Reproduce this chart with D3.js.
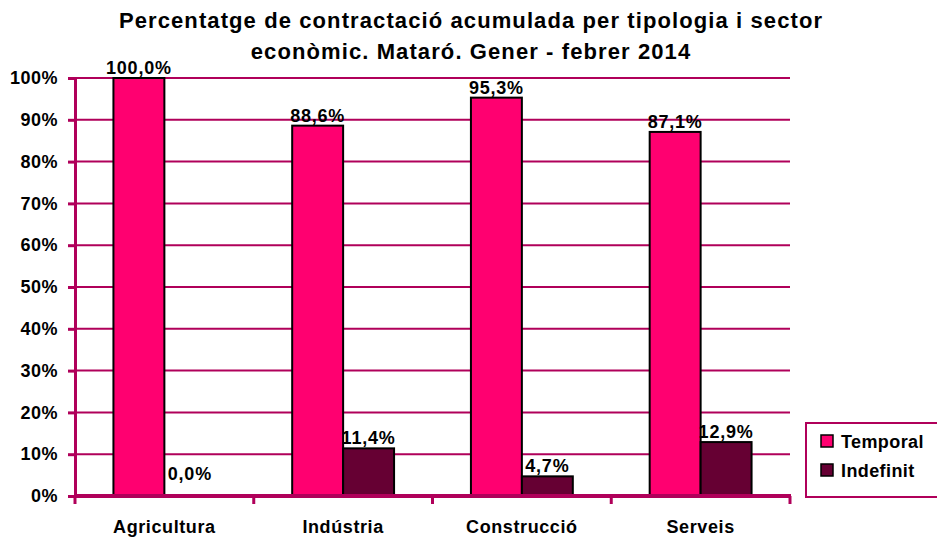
<!DOCTYPE html>
<html>
<head>
<meta charset="utf-8">
<script src="https://cdn.jsdelivr.net/npm/d3@7"></script>
<style>
  body { margin: 0; background: #fff; }
  text { font-family: "Liberation Sans", Arial, sans-serif; font-weight: bold; }
</style>
</head>
<body>
<script>
const categories = ["Agricultura", "Indústria", "Construcció", "Serveis"];
const series = ["Temporal", "Indefinit"];
const temporal = [100.0, 88.6, 95.3, 87.1];
const indefinit = [0.0, 11.4, 4.7, 12.9];
const yTicks = [0, 10, 20, 30, 40, 50, 60, 70, 80, 90, 100];
const colors = ["#ff0070", "#660033"];
const titleLines = ["Percentatge de contractació acumulada per tipologia i sector", "econòmic. Mataró. Gener - febrer 2014"];

const width = 937, height = 543;
const marginLeft = 75, marginRight = 147, marginTop = 78, marginBottom = 47;
const axisColor = "#b0005a";

const values = [temporal, indefinit];
const fmt = v => v.toFixed(1).replace(".", ",") + "%";

const svg = d3.select("body").append("svg")
    .attr("width", width)
    .attr("height", height);

const x = d3.scaleBand()
    .domain(categories)
    .range([marginLeft, width - marginRight])
    .paddingInner(0.43)
    .paddingOuter(0.215);

const xSub = d3.scaleBand()
    .domain(series)
    .range([0, x.bandwidth()]);

const y = d3.scaleLinear()
    .domain([0, 100])
    .range([height - marginBottom, marginTop]);

// title
svg.append("g")
    .selectAll("text")
    .data(titleLines)
    .join("text")
    .attr("x", 471)
    .attr("y", (d, i) => 28 + i * 31)
    .attr("text-anchor", "middle")
    .style("font-size", "22px")
    .style("letter-spacing", "1.1px")
    .text(d => d);

// gridlines
svg.append("g")
    .selectAll("line")
    .data(yTicks.filter(d => d > 0))
    .join("line")
    .attr("x1", marginLeft)
    .attr("x2", width - marginRight)
    .attr("y1", d => y(d))
    .attr("y2", d => y(d))
    .attr("stroke", axisColor)
    .attr("stroke-width", 2);

// y axis
const yAxis = d3.axisLeft(y).tickValues(yTicks).tickFormat(d => d + "%").tickSize(7).tickPadding(10);
svg.append("g")
    .attr("transform", `translate(${marginLeft},0)`)
    .call(yAxis)
    .call(g => g.select(".domain").attr("stroke", axisColor).attr("stroke-width", 3))
    .call(g => g.selectAll(".tick line").attr("stroke", axisColor).attr("stroke-width", 3))
    .call(g => g.selectAll(".tick text")
        .attr("fill", "#000")
        .style("font-size", "18px")
        .style("letter-spacing", "0.5px"));

// bars
const groups = svg.append("g")
    .selectAll("g")
    .data(categories)
    .join("g")
    .attr("transform", d => `translate(${x(d)},0)`);

groups.selectAll("rect")
    .data((d, i) => series.map((s, j) => ({ s, j, v: values[j][i] })))
    .join("rect")
    .attr("x", d => xSub(d.s))
    .attr("y", d => y(d.v))
    .attr("width", xSub.bandwidth())
    .attr("height", d => y(0) - y(d.v))
    .attr("fill", d => colors[d.j])
    .attr("stroke", d => d.v > 0 ? "#000" : "none")
    .attr("stroke-width", 2);

groups.selectAll("text")
    .data((d, i) => series.map((s, j) => ({ s, j, v: values[j][i] })))
    .join("text")
    .attr("x", d => xSub(d.s) + xSub.bandwidth() / 2)
    .attr("y", d => d.v === 0 ? y(d.v) - 16 : y(d.v) - 4)
    .attr("text-anchor", "middle")
    .style("font-size", "18px")
    .style("letter-spacing", "0.8px")
    .text(d => fmt(d.v));

// x axis
const bounds = d3.range(categories.length + 1).map(i => marginLeft + i * x.step());
svg.append("g")
    .call(g => g.append("line")
        .attr("x1", marginLeft - 1)
        .attr("x2", width - marginRight + 1)
        .attr("y1", y(0))
        .attr("y2", y(0))
        .attr("stroke", axisColor)
        .attr("stroke-width", 4))
    .call(g => g.selectAll(".xt")
        .data(bounds)
        .join("line")
        .attr("class", "xt")
        .attr("x1", d => d)
        .attr("x2", d => d)
        .attr("y1", y(0))
        .attr("y2", y(0) + 8)
        .attr("stroke", axisColor)
        .attr("stroke-width", 3))
    .call(g => g.selectAll("text")
        .data(categories)
        .join("text")
        .attr("x", d => x(d) + x.bandwidth() / 2)
        .attr("y", y(0) + 37)
        .attr("text-anchor", "middle")
        .style("font-size", "18px")
        .style("letter-spacing", "0.6px")
        .text(d => d));

// legend
const legend = svg.append("g").attr("transform", "translate(806,423)");
legend.append("rect")
    .attr("x", 0).attr("y", 0)
    .attr("width", 135).attr("height", 74)
    .attr("fill", "#fff")
    .attr("stroke", axisColor)
    .attr("stroke-width", 2);
const items = legend.selectAll(".item")
    .data(series)
    .join("g")
    .attr("class", "item")
    .attr("transform", (d, i) => `translate(15,${12 + i * 29})`);
items.append("rect")
    .attr("width", 12).attr("height", 12)
    .attr("fill", (d, i) => colors[i])
    .attr("stroke", "#000")
    .attr("stroke-width", 1.5);
items.append("text")
    .attr("x", 20)
    .attr("y", 13)
    .style("font-size", "18px")
    .style("letter-spacing", "0.4px")
    .text(d => d);
</script>
</body>
</html>
